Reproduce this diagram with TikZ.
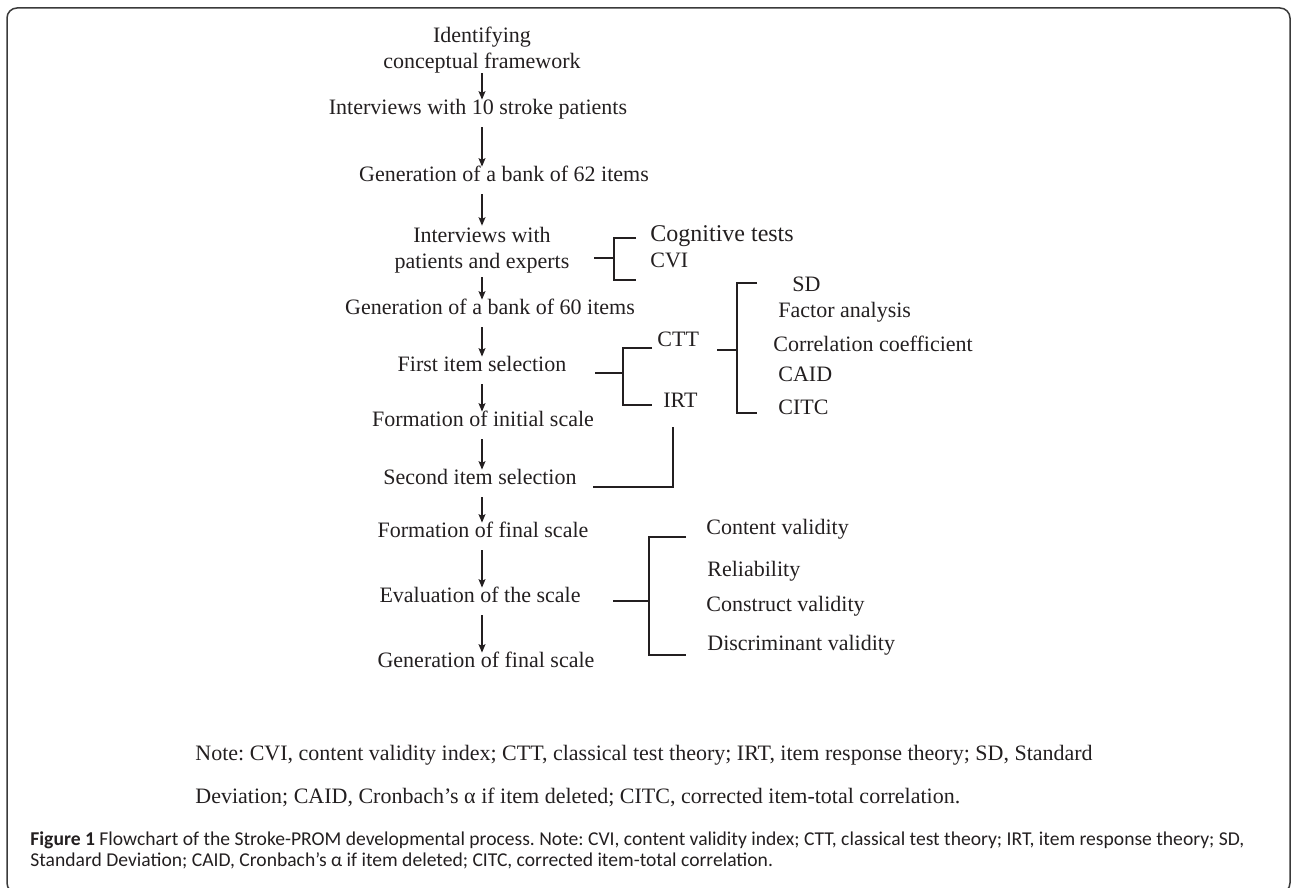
\documentclass[tikz,border=0pt]{standalone}
\usepackage{fontspec}
\setmainfont{Liberation Serif}
\newfontfamily\captionfont{Carlito}
\frenchspacing
\usetikzlibrary{arrows.meta}
\definecolor{flowInk}{HTML}{231F20}
\definecolor{flowFrame}{HTML}{3A3A3A}
\tikzset{
  every picture/.style={text=flowInk},
  stage/.style={font=\fontsize{11}{12.9}\selectfont, inner sep=0pt},
  stage two/.style={stage, align=center},
  stage line/.style={stage, text height=1.5ex, text depth=0.45ex},
  branch/.style={stage line, anchor=west},
  flow arrow/.style={-{Stealth[length=4.2pt,width=3.4pt,inset=0.8pt]},
    draw=flowInk, line width=0.9pt, shorten <=4pt, shorten >=0.5pt},
  brace line/.style={draw=flowInk, line width=0.6pt},
  brace stub/.style={draw=flowInk, line width=1pt},
  fig frame/.style={draw=flowFrame, line width=0.75pt, rounded corners=5pt},
  note text/.style={font=\fontsize{11}{21.5}\selectfont, inner sep=0pt,
    align=left, anchor=base west},
  caption text/.style={font=\captionfont\fontsize{9.8}{10.5}\selectfont,
    inner sep=0pt, align=left, anchor=base west}
}
\begin{document}
\begin{tikzpicture}[x=0.5pt,y=-0.5pt]
  \useasboundingbox (0,0) rectangle (1292,888);
  \draw[fig frame] (7,8) rectangle (1290,893);
  \coordinate (spine) at (482,0);
  % main column
  \node[stage two] (ident) at (482,50) {Identifying\\conceptual framework};
  \node[stage line] (interv) at (478,110) {Interviews with 10 stroke patients};
  \node[stage line] (bank62) at (504,177) {Generation of a bank of 62 items};
  \node[stage two] (experts) at (482,250) {Interviews with\\patients and experts};
  \node[stage line] (bank60) at (490,310) {Generation of a bank of 60 items};
  \node[stage line] (first) at (482,367) {First item selection};
  \node[stage line] (initial) at (483,422) {Formation of initial scale};
  \node[stage line] (second) at (480,480) {Second item selection};
  \node[stage line] (final) at (483,533) {Formation of final scale};
  \node[stage line] (eval) at (480,598) {Evaluation of the scale};
  \node[stage line] (genfinal) at (486,663) {Generation of final scale};
  \draw[flow arrow,shorten <=0pt] (ident.south -| spine) -- (interv.north -| spine);
  \draw[flow arrow] (interv.south -| spine) -- (bank62.north -| spine);
  \draw[flow arrow] (bank62.south -| spine) -- (experts.north -| spine);
  \draw[flow arrow,shorten <=2pt] (experts.south -| spine) -- (bank60.north -| spine);
  \draw[flow arrow] (bank60.south -| spine) -- (first.north -| spine);
  \draw[flow arrow] (first.south -| spine) -- (initial.north -| spine);
  \draw[flow arrow] (initial.south -| spine) -- (second.north -| spine);
  \draw[flow arrow] (second.south -| spine) -- (final.north -| spine);
  \draw[flow arrow] (final.south -| spine) -- (eval.north -| spine);
  \draw[flow arrow] (eval.south -| spine) -- (genfinal.north -| spine);
  % side branches
  \node[branch,font=\fontsize{12}{14}\selectfont] (cog) at (650,237) {Cognitive tests};
  \node[branch] (cvi) at (650,263) {CVI};
  \node[branch] (ctt) at (657,342) {CTT};
  \node[branch] (irt) at (663,403) {IRT};
  \node[branch] (sd) at (792,287) {SD};
  \node[branch] (factor) at (778,313) {Factor analysis};
  \node[branch] (corr) at (773,347) {Correlation coefficient};
  \node[branch] (caid) at (778,377) {CAID};
  \node[branch] (citc) at (778,410) {CITC};
  \node[branch] (content) at (706,530) {Content validity};
  \node[branch] (reliab) at (707,572) {Reliability};
  \node[branch] (construct) at (706,607) {Construct validity};
  \node[branch] (discrim) at (707,646) {Discriminant validity};
  % brackets
  \draw[brace stub] (594,258) -- (614,258);
  \draw[brace line] (636,238) -| (614,280) -- (636,280);
  \draw[brace stub] (595,373) -- (623,373);
  \draw[brace line] (652,348) -| (623,405) -- (652,405);
  \draw[brace stub] (717,350) -- (737,350);
  \draw[brace line] (757,283) -| (737,413) -- (757,413);
  \draw[brace line] (673,427) |- (593,487);
  \draw[brace stub] (613,601) -- (649,601);
  \draw[brace line] (686,537) -| (649,655) -- (686,655);
  % note and caption (base = last line)
  \node[note text] (note) at (195,803) {Note: CVI, content validity index; CTT, classical test theory; IRT, item response theory; SD, Standard\\Deviation; CAID, Cronbach’s α if item deleted; CITC, corrected item-total correlation.};
  \node[caption text] (caption) at (30,866) {\textbf{Figure 1} Flowchart of the Stroke-PROM developmental process. Note: CVI, content validity index; CTT, classical test theory; IRT, item response theory; SD,\\Standard Deviation; CAID, Cronbach’s α if item deleted; CITC, corrected item-total correlation.};
\end{tikzpicture}
\end{document}
